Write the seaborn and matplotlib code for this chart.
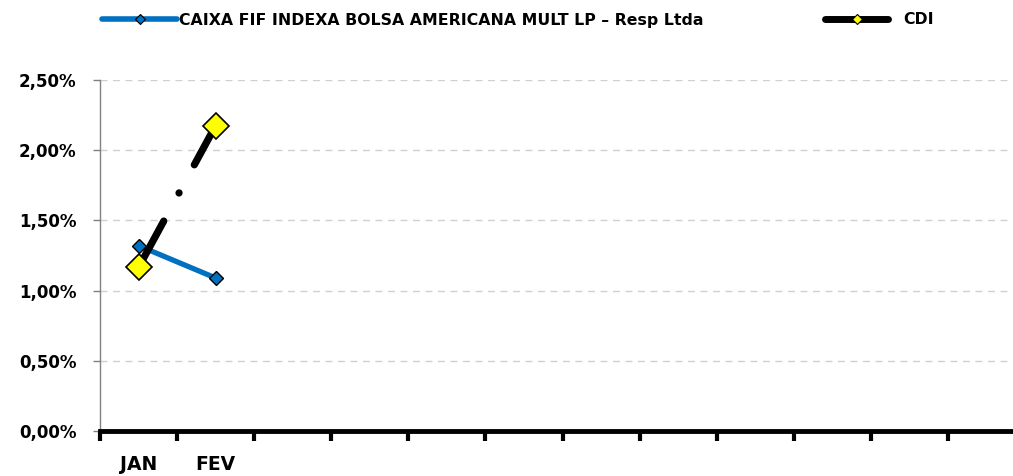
import numpy as np
import pandas as pd
import matplotlib
matplotlib.use("Agg")
import matplotlib.pyplot as plt
import seaborn as sns
from matplotlib.lines import Line2D

months = ["JAN", "FEV", "MAR", "ABR", "MAI", "JUN", "JUL", "AGO", "SET", "OUT", "NOV", "DEZ"]
month_labels = ["JAN", "FEV", "", "", "", "", "", "", "", "", "", ""]
fund_name = "CAIXA FIF INDEXA BOLSA AMERICANA MULT LP – Resp Ltda"
fund_values = [1.32, 1.09]
cdi_name = "CDI"
cdi_values = [1.165, 2.175]
y_ticks = [0.0, 0.5, 1.0, 1.5, 2.0, 2.5]
y_tick_labels = ["0,00%", "0,50%", "1,00%", "1,50%", "2,00%", "2,50%"]

sns.set_theme(style="white")
plt.rcParams["font.family"] = ["DejaVu Sans"]
plt.rcParams["text.color"] = "black"
plt.rcParams["xtick.color"] = "black"
plt.rcParams["ytick.color"] = "#808080"
plt.rcParams["ytick.labelcolor"] = "black"
plt.rcParams["xtick.labelcolor"] = "black"
plt.rcParams["lines.scale_dashes"] = False

fig = plt.figure(figsize=(10.13, 4.76), dpi=100)
ax = fig.add_axes([100 / 1013, 45 / 476, 925 / 1013, 351 / 476])

df_fund = pd.DataFrame({"pos": np.arange(len(fund_values)), "val": fund_values})
df_cdi = pd.DataFrame({"pos": np.arange(len(cdi_values)), "val": cdi_values})

sns.lineplot(data=df_fund, x="pos", y="val", ax=ax, color="#0070C0", linewidth=3.8,
             marker="D", markersize=7, markerfacecolor="#0070C0", markeredgecolor="black",
             markeredgewidth=1.0, solid_capstyle="butt", zorder=3)
sns.lineplot(data=df_cdi, x="pos", y="val", ax=ax, color="black", linewidth=5.2,
             linestyle=(0, (38, 23, 0.1, 23)), dash_capstyle="round",
             marker="D", markersize=13, markerfacecolor="#FFFF00", markeredgecolor="black",
             markeredgewidth=1.2, zorder=4)

ax.set_xlim(-0.5, len(months) - 0.5)
ax.set_ylim(0, 2.5)
ax.set_yticks(y_ticks)
ax.set_yticklabels(y_tick_labels, fontsize=12, fontweight="bold", color="black")
ax.set_xticks(np.arange(len(months)))
ax.set_xticklabels(month_labels, fontsize=13.5, fontweight="bold", color="black")
ax.set_xticks(np.arange(len(months) + 1) - 0.5, minor=True)
ax.tick_params(axis="x", which="major", length=0, pad=17, bottom=True)
ax.tick_params(axis="x", which="minor", length=7, width=3, color="black", direction="out", bottom=True)
ax.tick_params(axis="y", length=5, width=1, color="#808080", direction="out", pad=12, left=True)
ax.set_xlabel("")
ax.set_ylabel("")

for y in y_ticks[1:]:
    ax.axhline(y, color="#D0D0D0", linewidth=1, linestyle=(0, (5, 4)), zorder=0)

for s in ["top", "right"]:
    ax.spines[s].set_visible(False)
ax.spines["left"].set_color("#808080")
ax.spines["left"].set_linewidth(1)
ax.spines["bottom"].set_color("black")
ax.spines["bottom"].set_linewidth(3.5)
ax.spines["bottom"].set_zorder(5)

h1 = Line2D([], [], color="#0070C0", linewidth=4, marker="D", markersize=5,
            markerfacecolor="#0070C0", markeredgecolor="black", markeredgewidth=0.8)
h2 = Line2D([], [], color="black", linewidth=5, marker="D", markersize=5,
            markerfacecolor="#FFFF00", markeredgecolor="black", markeredgewidth=0.8)
leg1 = fig.legend([h1], [fund_name], loc="center left", bbox_to_anchor=(88 / 1013, 1 - 20 / 476),
                  frameon=False, handlelength=4.8, handletextpad=0.1,
                  prop={"weight": "bold", "size": 11.3})
leg2 = fig.legend([h2], [cdi_name], loc="center left", bbox_to_anchor=(811 / 1013, 1 - 20 / 476),
                  frameon=False, handlelength=4.0, handletextpad=1.0,
                  prop={"weight": "bold", "size": 11.3})

fig.savefig("out.png", dpi=100)
